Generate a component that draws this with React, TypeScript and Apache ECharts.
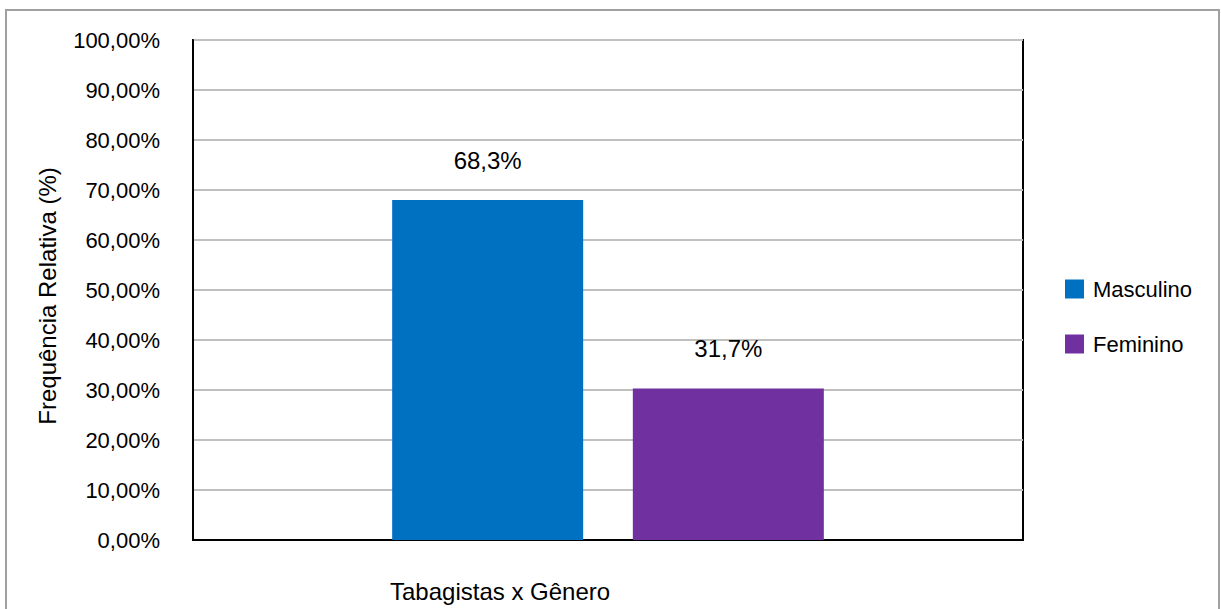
import React, { useEffect, useRef } from "react";
import * as echarts from "echarts";

const categories = ["Tabagistas x Gênero"];
const seriesNames = ["Masculino", "Feminino"];
const masculinoValues = [68.0];
const femininoValues = [30.3];
const barLabels = ["68,3%", "31,7%"];
const yTickLabels = ["0,00%", "10,00%", "20,00%", "30,00%", "40,00%", "50,00%", "60,00%", "70,00%", "80,00%", "90,00%", "100,00%"];
const colors = ["#0070c0", "#7030a0"];

const FONT = "'Liberation Sans', Arial, sans-serif";

export default function App() {
  const ref = useRef<HTMLDivElement>(null);
  useEffect(() => {
    if (!ref.current) return;
    document.body.style.margin = "0";
    document.body.style.overflow = "hidden";
    const chart = echarts.init(ref.current, undefined, { renderer: "svg" });
    const mkLabel = (i: number) => ({
      show: true,
      position: "top",
      distance: 28,
      color: "#000",
      fontSize: 24,
      fontFamily: FONT,
      formatter: () => barLabels[i],
    });
    const borderStyle = { stroke: "#a0a0a0", lineWidth: 2 };
    chart.setOption({
      animation: false,
      backgroundColor: "#fff",
      textStyle: { fontFamily: FONT },
      grid: {
        left: 193,
        top: 40,
        right: 198,
        bottom: 69,
        show: true,
        borderColor: "#000",
        borderWidth: 2,
        backgroundColor: "transparent",
      },
      legend: {
        orient: "vertical",
        left: 1065,
        top: 278,
        padding: 0,
        itemWidth: 19,
        itemHeight: 19,
        itemGap: 33,
        icon: "rect",
        textStyle: { fontSize: 22, lineHeight: 19, color: "#000", fontFamily: FONT, padding: [3, 0, 0, 4] },
        data: seriesNames,
      },
      xAxis: {
        type: "category",
        data: categories,
        axisLine: { show: true, lineStyle: { color: "#000", width: 2 } },
        axisTick: { show: false },
        axisLabel: { show: false },
      },
      yAxis: {
        type: "value",
        min: 0,
        max: 100,
        interval: 10,
        name: "Frequência Relativa (%)",
        nameLocation: "middle",
        nameGap: 134,
        nameRotate: 90,
        nameTextStyle: { fontSize: 24, color: "#000", fontFamily: FONT, padding: [0, 12, 0, 0] },
        axisLine: { show: true, lineStyle: { color: "#000", width: 2 } },
        axisTick: { show: false },
        axisLabel: {
          fontSize: 22,
          color: "#000",
          fontFamily: FONT,
          margin: 33,
          formatter: (v: number) => yTickLabels[Math.round(v / 10)],
        },
        splitLine: { show: true, lineStyle: { color: "#c0c0c0", width: 2 } },
      },
      series: [
        {
          name: seriesNames[0],
          type: "bar",
          data: masculinoValues,
          barWidth: 191,
          barGap: "26%",
          itemStyle: { color: colors[0] },
          label: mkLabel(0),
        },
        {
          name: seriesNames[1],
          type: "bar",
          data: femininoValues,
          barWidth: 191,
          barGap: "26%",
          itemStyle: { color: colors[1] },
          label: mkLabel(1),
        },
      ],
      graphic: [
        { type: "line", silent: true, shape: { x1: 5, y1: 10, x2: 1220, y2: 10 }, style: borderStyle },
        { type: "line", silent: true, shape: { x1: 6, y1: 9, x2: 6, y2: 609 }, style: borderStyle },
        { type: "line", silent: true, shape: { x1: 1219, y1: 9, x2: 1219, y2: 609 }, style: borderStyle },
        {
          type: "text",
          left: 390,
          top: 579,
          style: { text: categories[0], fontSize: 24, fill: "#000", fontFamily: FONT },
        },
      ],
    });
    return () => chart.dispose();
  }, []);
  return <div ref={ref} style={{ width: 1221, height: 609 }} />;
}
